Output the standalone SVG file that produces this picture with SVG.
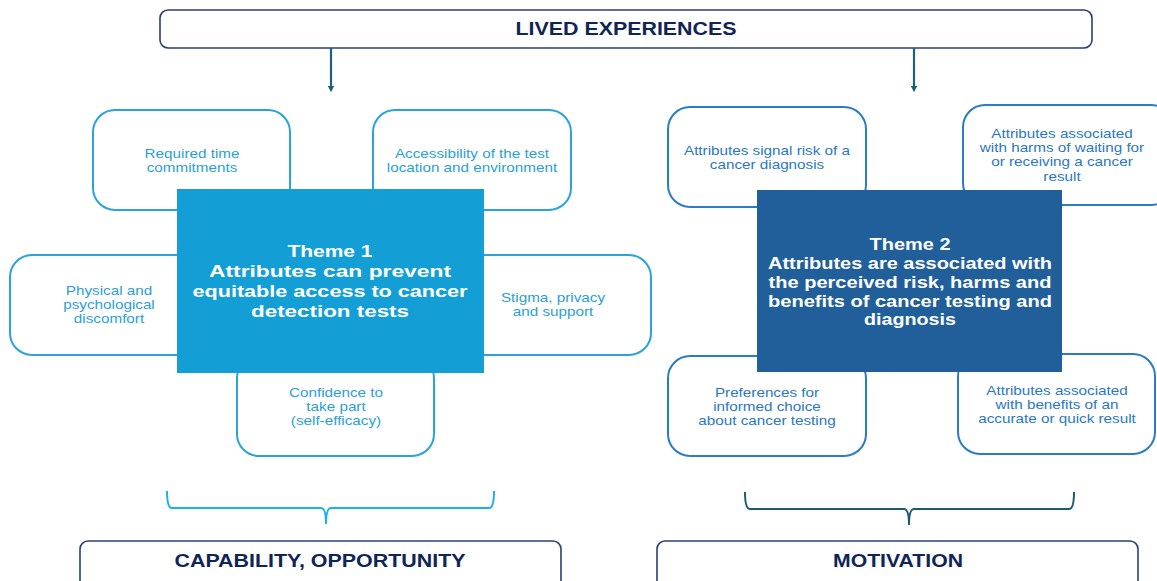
<svg xmlns="http://www.w3.org/2000/svg" width="1157" height="581" viewBox="0 0 1157 581">
<defs>
<style>
.hdr{fill:#fff;stroke:#2b3f78;stroke-width:1.6}
.hdrt{font-family:"Liberation Sans",Arial,sans-serif;font-weight:bold;font-size:17.5px;fill:#0f2557;text-anchor:middle}
.lb{fill:#fff;stroke:#2aa3dc;stroke-width:2}
.rb{fill:#fff;stroke:#2a7cc6;stroke-width:2}
.lt{font-family:"Liberation Sans",Arial,sans-serif;font-size:12.5px;fill:#2b9fd8;text-anchor:middle}
.rt{font-family:"Liberation Sans",Arial,sans-serif;font-size:12.5px;fill:#2b78c2;text-anchor:middle}
.tt{font-family:"Liberation Sans",Arial,sans-serif;font-weight:bold;font-size:16.5px;fill:#fff;text-anchor:middle}
</style>
<marker id="ah" viewBox="0 0 10 10" refX="5" refY="5" markerWidth="3" markerHeight="3" orient="auto"><path d="M0,0 L10,5 L0,10 z" fill="#1f5f7a"/></marker>
</defs>
<rect width="1157" height="581" fill="#fff"/>
<g id="lived">
<rect class="hdr" x="160" y="10" width="932" height="38" rx="8"/>
<text class="hdrt" x="626" y="35" textLength="221" lengthAdjust="spacingAndGlyphs">LIVED EXPERIENCES</text>
</g>
<g id="connectors" fill="none">
<line x1="331" y1="48" x2="331" y2="89" stroke="#1f5f7a" stroke-width="2.2" marker-end="url(#ah)"/>
<line x1="914" y1="48" x2="914" y2="89" stroke="#1f5f7a" stroke-width="2.2" marker-end="url(#ah)"/>
<path d="M167,491 Q167,508 172,508 L321,508 Q326,508 326,524 Q326,508 331,508 L489,508 Q494,508 494,491" stroke="#1ab0ea" stroke-width="2"/>
<path d="M745,492 Q745,509 750,509 L904,509 Q909,509 909,525 Q909,509 914,509 L1069,509 Q1074,509 1074,492" stroke="#1f5a74" stroke-width="2"/>
</g>
<g id="n-time"><rect class="lb" x="93" y="110" width="197" height="100" rx="22"/>
<g transform="translate(192 0) scale(1.22 1)"><text class="lt" x="0" y="158">Required time</text><text class="lt" x="0" y="172">commitments</text></g></g>
<g id="n-access"><rect class="lb" x="373" y="110" width="198" height="100" rx="22"/>
<g transform="translate(472 0) scale(1.22 1)"><text class="lt" x="0" y="158">Accessibility of the test</text><text class="lt" x="0" y="172">location and environment</text></g></g>
<g id="n-physical"><rect class="lb" x="10" y="255" width="200" height="100" rx="22"/>
<g transform="translate(109 0) scale(1.22 1)"><text class="lt" x="0" y="295">Physical and</text><text class="lt" x="0" y="309">psychological</text><text class="lt" x="0" y="323">discomfort</text></g></g>
<g id="n-stigma"><rect class="lb" x="452" y="255" width="199" height="100" rx="22"/>
<g transform="translate(553 0) scale(1.22 1)"><text class="lt" x="0" y="302">Stigma, privacy</text><text class="lt" x="0" y="316">and support</text></g></g>
<g id="n-confidence"><rect class="lb" x="237" y="356" width="197" height="100" rx="22"/>
<g transform="translate(336 0) scale(1.22 1)"><text class="lt" x="0" y="397">Confidence to</text><text class="lt" x="0" y="411">take part</text><text class="lt" x="0" y="425">(self-efficacy)</text></g></g>
<g id="theme1"><rect x="177" y="189" width="307" height="184" fill="#139fd6"/>
<text class="tt" x="330" y="257" textLength="85" lengthAdjust="spacingAndGlyphs">Theme 1</text>
<text class="tt" x="330" y="277" textLength="242" lengthAdjust="spacingAndGlyphs">Attributes can prevent</text>
<text class="tt" x="330" y="297" textLength="275" lengthAdjust="spacingAndGlyphs">equitable access to cancer</text>
<text class="tt" x="330" y="317" textLength="158" lengthAdjust="spacingAndGlyphs">detection tests</text></g>
<g id="n-signal"><rect class="rb" x="668" y="107" width="198" height="100" rx="22"/>
<g transform="translate(767 0) scale(1.22 1)"><text class="rt" x="0" y="155">Attributes signal risk of a</text><text class="rt" x="0" y="169">cancer diagnosis</text></g></g>
<g id="n-harms"><rect class="rb" x="963" y="105" width="210" height="100" rx="22"/>
<g transform="translate(1062 0) scale(1.22 1)"><text class="rt" x="0" y="138">Attributes associated</text><text class="rt" x="0" y="152">with harms of waiting for</text><text class="rt" x="0" y="166">or receiving a cancer</text><text class="rt" x="0" y="181">result</text></g></g>
<g id="n-prefs"><rect class="rb" x="668" y="356" width="198" height="100" rx="22"/>
<g transform="translate(767 0) scale(1.22 1)"><text class="rt" x="0" y="397">Preferences for</text><text class="rt" x="0" y="411">informed choice</text><text class="rt" x="0" y="425">about cancer testing</text></g></g>
<g id="n-benefits"><rect class="rb" x="958" y="354" width="197" height="100" rx="22"/>
<g transform="translate(1057 0) scale(1.22 1)"><text class="rt" x="0" y="395">Attributes associated</text><text class="rt" x="0" y="409">with benefits of an</text><text class="rt" x="0" y="423">accurate or quick result</text></g></g>
<g id="theme2"><rect x="757" y="190" width="305" height="182" fill="#215f9b"/>
<text class="tt" x="910" y="250" textLength="81" lengthAdjust="spacingAndGlyphs">Theme 2</text>
<text class="tt" x="910" y="269" textLength="284" lengthAdjust="spacingAndGlyphs">Attributes are associated with</text>
<text class="tt" x="910" y="288" textLength="283" lengthAdjust="spacingAndGlyphs">the perceived risk, harms and</text>
<text class="tt" x="910" y="307" textLength="284" lengthAdjust="spacingAndGlyphs">benefits of cancer testing and</text>
<text class="tt" x="910" y="325" textLength="92" lengthAdjust="spacingAndGlyphs">diagnosis</text></g>
<g id="capability"><rect class="hdr" x="80" y="541" width="481" height="48" rx="8"/>
<text class="hdrt" x="320" y="567" textLength="291" lengthAdjust="spacingAndGlyphs">CAPABILITY, OPPORTUNITY</text></g>
<g id="motivation"><rect class="hdr" x="657" y="541" width="481" height="48" rx="8"/>
<text class="hdrt" x="898" y="567" textLength="130" lengthAdjust="spacingAndGlyphs">MOTIVATION</text></g>
</svg>
